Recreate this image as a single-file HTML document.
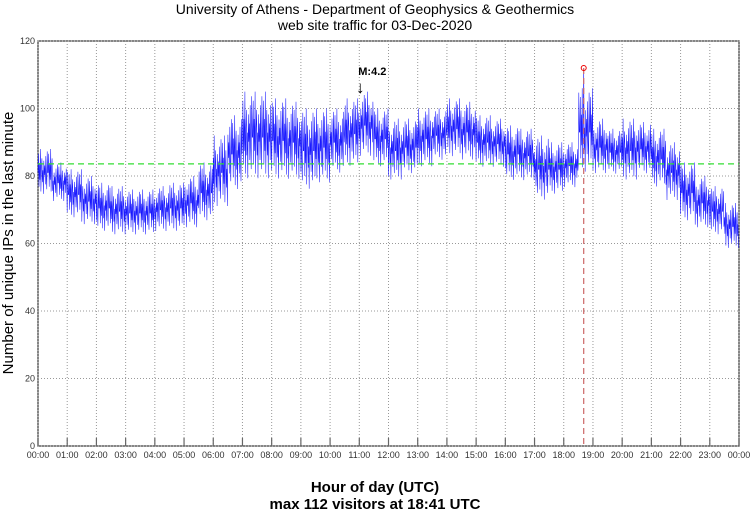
<!DOCTYPE html>
<html><head><meta charset="utf-8"><style>
body{margin:0;background:#fff;}
svg{display:block;font-family:"Liberation Sans",sans-serif;}
</style></head><body>
<svg id="c" width="750" height="511">
<text x="375" y="14" text-anchor="middle" font-size="14">University of Athens - Department of Geophysics &amp; Geothermics</text>
<text x="375" y="30" text-anchor="middle" font-size="14">web site traffic for 03-Dec-2020</text>
<text transform="translate(13,243) rotate(-90)" text-anchor="middle" font-size="15">Number of unique IPs in the last minute</text>
<text x="375" y="492" text-anchor="middle" font-size="15" font-weight="bold">Hour of day (UTC)</text>
<text x="375" y="509" text-anchor="middle" font-size="15" font-weight="bold">max 112 visitors at 18:41 UTC</text>
<g id="grid"></g><g id="series"></g><g id="over"></g>
</svg>
<script>
// half-hour bins (48): low / high of unique IPs
const binLow  = [74,72,67,65,63,62,62,62,63,63,64,66,70,75,78,78,78,78,75,77,80,82,85,82,78,80,82,84,85,84,82,82,78,78,72,74,76,80,80,80,78,80,76,72,66,64,62,58];
const binHigh = [88,84,82,80,78,77,76,76,77,78,80,84,92,98,105,105,103,102,100,100,100,103,105,100,97,97,100,100,103,102,98,97,95,94,92,90,90,106,97,94,97,96,94,90,84,80,77,72];
const yTicks = [0,20,40,60,80,100,120];
const hourLabels = ["00:00","01:00","02:00","03:00","04:00","05:00","06:00","07:00","08:00","09:00","10:00","11:00","12:00","13:00","14:00","15:00","16:00","17:00","18:00","19:00","20:00","21:00","22:00","23:00","00:00"];
const meanLevel = 83.6;
const maxValue = 112, maxMinute = 18*60+41;
const quakeMinute = 11*60+2, quakeLabel = "M:4.2", quakeValue = 104;

const X0=38,X1=739,Y0=446,Y1=41;
const xs=m=>X0+(X1-X0)*m/1440;
const ys=v=>Y0-(Y0-Y1)*v/120;
const NS="http://www.w3.org/2000/svg";
function mk(tag,attrs,parent){const e=document.createElementNS(NS,tag);for(const k in attrs)e.setAttribute(k,attrs[k]);parent.appendChild(e);return e;}
const grid=document.getElementById('grid'),ser=document.getElementById('series'),over=document.getElementById('over');
mk('rect',{x:X0,y:Y1,width:X1-X0,height:Y0-Y1,fill:'none',stroke:'#444','stroke-width':1.3},grid);
yTicks.forEach(v=>{
 const l=mk('line',{x1:X0,x2:X1,y1:ys(v),y2:ys(v),stroke:'#999','stroke-dasharray':'1,2'},grid);
 
 
 const t=mk('text',{x:X0-3,y:ys(v)+3,'text-anchor':'end','font-size':9,fill:'#333'},grid);
 t.textContent=v;
 
 
});
hourLabels.forEach((h,i)=>{
 const x=xs(i*60);
 const l=mk('line',{x1:x,x2:x,y1:Y1,y2:Y0,stroke:'#999','stroke-dasharray':'1,2'},grid);
 
 
 mk('line',{x1:x,x2:x,y1:Y0-8,y2:Y0,stroke:'#666','stroke-width':1.2},grid);
 const t=mk('text',{x:x,y:458,'text-anchor':'middle','font-size':9,fill:'#333'},grid);
 t.textContent=h;
 
 
});
const pat=[0.5,0.9,0.2,0.7,0.35,1.0,0.1,0.6,0.8,0.3,0.55,0.05,0.75,0.45,0.65,0.25,0.85,0.4,0.15,0.95,0.5];
let d='';
for(let m=0;m<1440;m++){
 const b=Math.min(binLow.length-1,Math.floor(m/30));
 const lo=binLow[b],hi=binHigh[b];
 let v=lo+(hi-lo)*pat[m%pat.length];
 if(m===maxMinute)v=maxValue;
 d+=(m?'L':'M')+xs(m).toFixed(1)+','+ys(v).toFixed(1);
}
const p=mk('path',{d:d,fill:'none',stroke:'#0000ff','stroke-width':0.55,'stroke-opacity':0.9},ser);


const g=mk('line',{x1:X0,x2:X1,y1:ys(meanLevel),y2:ys(meanLevel),stroke:'#33dd33','stroke-width':1.2,'stroke-dasharray':'6,4'},over);


const r=mk('line',{x1:xs(maxMinute),x2:xs(maxMinute),y1:ys(maxValue),y2:Y0,stroke:'#cc6666','stroke-width':1.2,'stroke-dasharray':'6,4'},over);


const c=mk('circle',{cx:xs(maxMinute),cy:ys(maxValue),r:2.5,fill:'none',stroke:'#ee0000','stroke-width':1},over);


const qt=mk('text',{x:xs(quakeMinute)-2,y:ys(quakeValue)-20,'font-size':11,'font-weight':'bold'},over);
qt.textContent=quakeLabel;


const qa=mk('text',{x:xs(quakeMinute),y:ys(quakeValue)-2,'text-anchor':'middle','font-size':17},over);
qa.textContent='↓';


</script>
</body></html>
